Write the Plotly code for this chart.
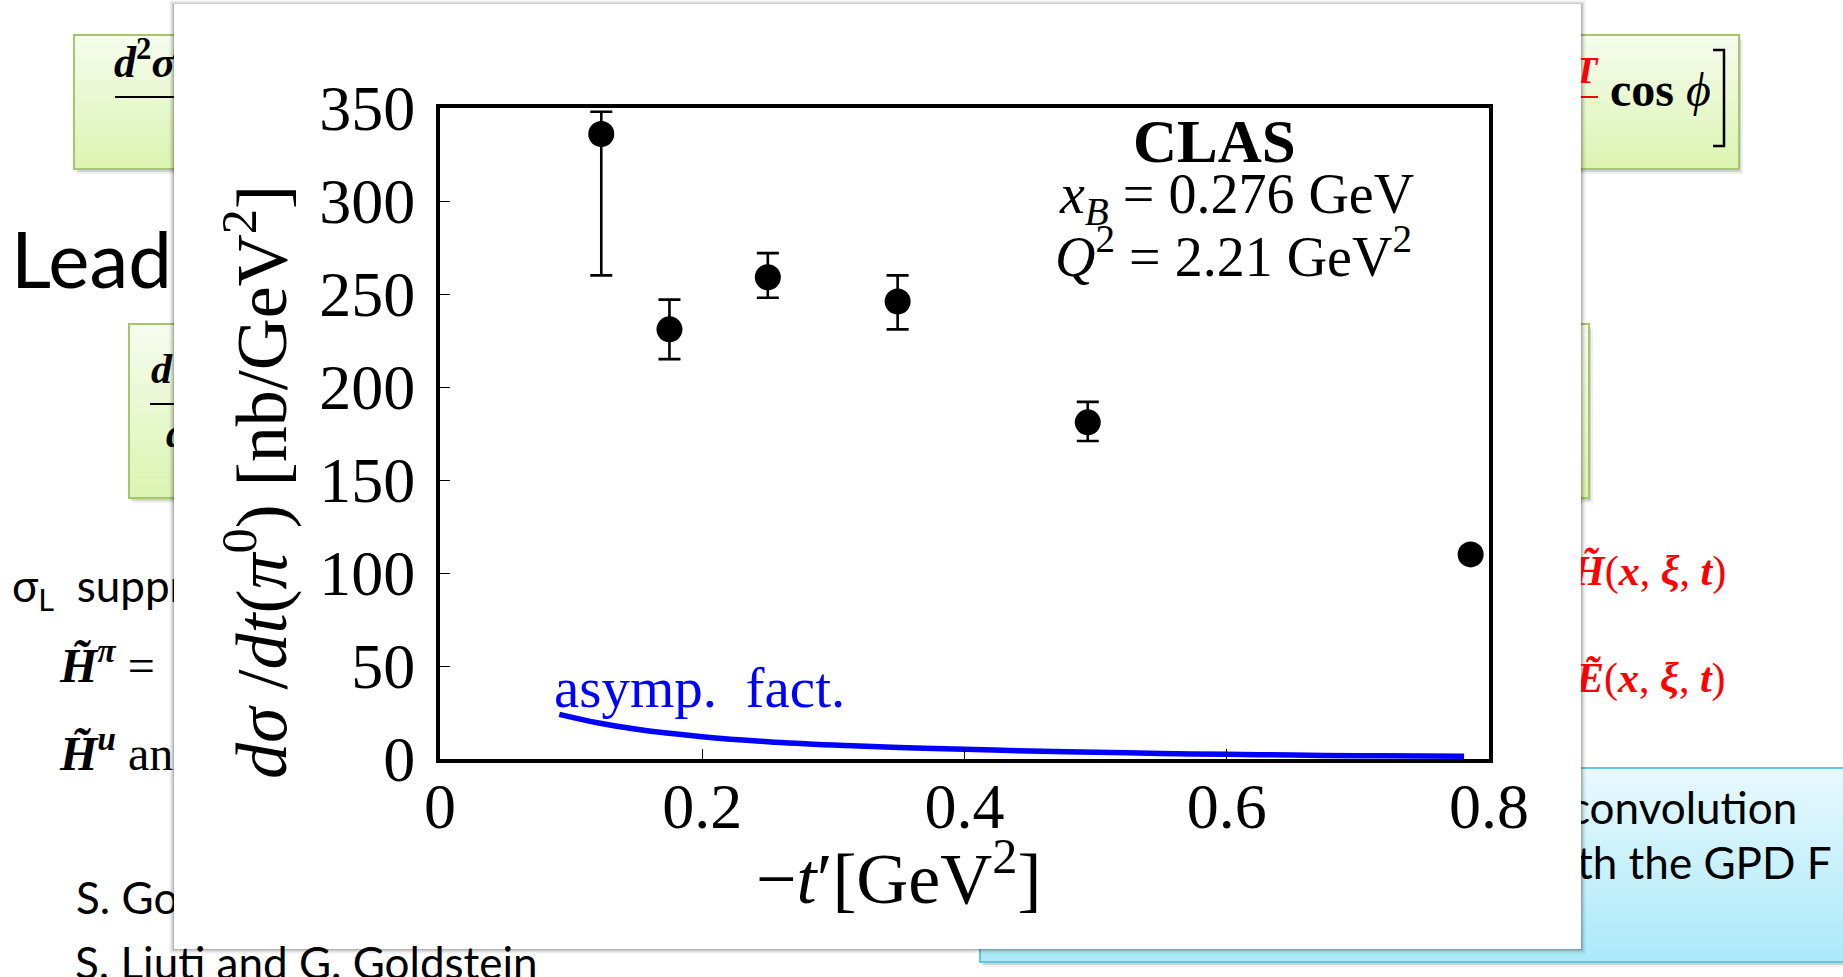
import plotly.graph_objects as go

W, H = 1843, 977

# CLAS pi0 electroproduction cross section, x_B = 0.276, Q^2 = 2.21 GeV^2
t_prime = [0.123, 0.175, 0.250, 0.349, 0.494, 0.786]
dsigma_dt = [336, 231, 259, 246, 181, 110]
err_up = [12, 16, 13, 14, 11, 3]
err_down = [76, 16, 11, 15, 10, 3]

# asymptotic factorization prediction
asym_t = [0.091, 0.12, 0.15, 0.20, 0.25, 0.30, 0.35, 0.40, 0.45, 0.50,
          0.55, 0.60, 0.65, 0.70, 0.75, 0.781]
asym_sigma = [24, 19.5, 16, 12, 9.3, 7.5, 6.2, 5.2, 4.3, 3.6,
              3.0, 2.5, 2.1, 1.8, 1.6, 1.5]

x_ticks = [0, 0.2, 0.4, 0.6, 0.8]
y_ticks = [0, 50, 100, 150, 200, 250, 300, 350]

SERIF = "Liberation Serif"
SANS = "Lato"


def px(x):
    return x / W


def py(y):
    return 1 - y / H


def rect(x0, y0, x1, y1, fill, line_color=None, line_width=0):
    return dict(type="rect", xref="paper", yref="paper", layer="below",
                x0=px(x0), x1=px(x1), y0=py(y1), y1=py(y0),
                fillcolor=fill,
                line=dict(color=line_color or "rgba(0,0,0,0)", width=line_width))


def mix(c0, c1, f):
    return "rgb(%d,%d,%d)" % tuple(round(a + (b - a) * f) for a, b in zip(c0, c1))


def gradient_box(x0, y0, x1, y1, top, bottom, border, n=24):
    out = [rect(x0 + 4, y0 + 5, x1 + 4, y1 + 5, "rgba(0,0,0,0.06)"),
           rect(x0 + 2, y0 + 3, x1 + 2, y1 + 3, "rgba(0,0,0,0.12)")]
    step = (y1 - y0) / n
    for i in range(n):
        out.append(rect(x0, y0 + i * step, x1, y0 + (i + 1) * step + 0.6,
                        mix(top, bottom, (i + 0.5) / n)))
    out.append(rect(x0, y0, x1, y1, "rgba(0,0,0,0)", border, 2))
    return out


shapes = []
# slide boxes behind the figure panel
shapes += gradient_box(74, 35, 1739, 169, (246, 252, 238), (219, 244, 176), "#a5c66c")
shapes += gradient_box(129, 324, 1589, 498, (246, 252, 238), (219, 244, 176), "#a5c66c")
shapes += gradient_box(980, 768, 1900, 962, (232, 249, 254), (170, 233, 249), "#6cc3db")
# fraction bars and closing bracket inside the green boxes
shapes.append(dict(type="line", xref="paper", yref="paper", layer="below",
                   x0=px(115), x1=px(180), y0=py(97), y1=py(97),
                   line=dict(color="black", width=2)))
shapes.append(dict(type="line", xref="paper", yref="paper", layer="below",
                   x0=px(150), x1=px(180), y0=py(404), y1=py(404),
                   line=dict(color="black", width=2)))
shapes.append(dict(type="line", xref="paper", yref="paper", layer="below",
                   x0=px(1570), x1=px(1598), y0=py(97), y1=py(97),
                   line=dict(color="#ff0000", width=2)))
shapes.append(dict(type="path", xref="paper", yref="paper", layer="below",
                   path="M %f,%f L %f,%f L %f,%f L %f,%f" % (
                       px(1713), py(50), px(1724), py(50),
                       px(1724), py(146), px(1713), py(146)),
                   line=dict(color="black", width=2.5)))

# figure panel with a soft shadow
for grow, alpha in [(5, 0.03), (4, 0.04), (3, 0.06), (2, 0.08), (1, 0.12)]:
    shapes.append(rect(174 - grow, 4 - grow + 1, 1581 + grow, 949 + grow,
                       "rgba(0,0,0,%.2f)" % alpha))
shapes.append(rect(174, 4, 1581, 949, "white"))

fig = go.Figure()

# measured points
fig.add_trace(go.Scatter(
    x=t_prime, y=dsigma_dt, mode="markers",
    marker=dict(color="black", size=26),
    error_y=dict(type="data", symmetric=False, array=err_up, arrayminus=err_down,
                 color="black", thickness=2.6, width=11),
    hoverinfo="skip", showlegend=False, cliponaxis=False,
))
# model curve
fig.add_trace(go.Scatter(
    x=asym_t, y=asym_sigma, mode="lines",
    line=dict(color="#0000ff", width=5.5, shape="spline"),
    hoverinfo="skip", showlegend=False,
))


def strip_text(xs, ys, texts, family, size, color, axis):
    fig.add_trace(go.Scatter(
        x=xs, y=ys, text=texts, mode="text", textposition="middle right",
        textfont=dict(family=family, size=size, color=color),
        xaxis="x" + axis, yaxis="y" + axis, cliponaxis=True,
        hoverinfo="skip", showlegend=False,
    ))


# slide text left of the panel
strip_text([11], [268], ["Lead"], SANS, 78, "black", "2")
strip_text([12], [591], ["σ<sub>L</sub>  suppr"], SANS, 44, "black", "2")
strip_text([76], [903], ["S. Go"], SANS, 44, "black", "2")
strip_text([114], [66], ["<b><i>d</i><sup>2</sup><i>σ</i></b>"], SERIF, 44, "black", "2")
strip_text([151, 166], [372, 436], ["<b><i>d</i></b>", "<b><i>dt</i></b>"],
           SERIF, 42, "black", "2")
strip_text([60, 60], [670, 758],
           ["<b><i>H̃</i></b><sup><b><i>π</i></b></sup> =",
            "<b><i>H̃</i></b><sup><b><i>u</i></b></sup> an"],
           SERIF, 48, "black", "2")

# slide text right of the panel
strip_text([1574], [73], ["<b><i>T</i></b>"], SERIF, 38, "#ff0000", "3")
strip_text([1610], [94], ["<b>cos</b> <i>ϕ</i>"], SERIF, 48, "black", "3")
strip_text([1572, 1576], [574, 681],
           ["<b><i>H̃</i></b>(<b><i>x</i></b>, <b><i>ξ</i></b>, <b><i>t</i></b>)",
            "<b><i>Ẽ</i></b>(<b><i>x</i></b>, <b><i>ξ</i></b>, <b><i>t</i></b>)"],
           SERIF, 42, "#ff0000", "3")
strip_text([1569, 1577], [813, 868], ["convolution", "th the GPD F"],
           SANS, 44, "black", "3")

annotations = [
    dict(text="S. Liuti and G. Goldstein", x=px(73), y=py(962), xanchor="left",
         yanchor="middle", font=dict(family=SANS, size=44, color="black")),
    dict(text="<b>CLAS</b>", x=px(1214), y=py(142), xanchor="center", yanchor="middle",
         font=dict(family=SERIF, size=61, color="black")),
    dict(text="<i>x</i><sub><i>B</i></sub> = 0.276 GeV", x=px(1416), y=py(198),
         xanchor="right", yanchor="middle", font=dict(family=SERIF, size=56, color="black")),
    dict(text="<i>Q</i><sup>2</sup> = 2.21 GeV<sup>2</sup>", x=px(1414), y=py(253),
         xanchor="right", yanchor="middle", font=dict(family=SERIF, size=56, color="black")),
    dict(text="asymp.  fact.", x=px(552), y=py(687), xanchor="left", yanchor="middle",
         font=dict(family=SERIF, size=57, color="#0000ff")),
    dict(text="<i>dσ</i> /<i>dt</i>(<i>π</i><sup>0</sup>) [nb/GeV<sup>2</sup>]",
         x=px(256), y=py(482), xanchor="center", yanchor="middle", textangle=-90,
         font=dict(family=SERIF, size=72, color="black")),
    dict(text="−<i>t</i>′[GeV<sup>2</sup>]", x=px(899), y=py(873), xanchor="center",
         yanchor="middle", font=dict(family=SERIF, size=72, color="black")),
]
for a in annotations:
    a.update(xref="paper", yref="paper", showarrow=False)

axis_common = dict(
    showline=True, linewidth=4, linecolor="black", mirror=True,
    ticks="inside", ticklen=10, tickwidth=1.3, tickcolor="black",
    showgrid=False, zeroline=False, automargin=False,
    tickfont=dict(family=SERIF, size=64, color="black"),
)
hidden = dict(visible=False, showgrid=False, zeroline=False, fixedrange=True,
              automargin=False)

fig.update_layout(
    width=W, height=H, autosize=False,
    margin=dict(l=0, r=0, t=0, b=0, pad=0, autoexpand=False),
    paper_bgcolor="white", plot_bgcolor="rgba(0,0,0,0)",
    font=dict(family=SERIF, color="black"),
    showlegend=False,
    xaxis=dict(domain=[px(440), px(1489)], range=[0, 0.8], tickvals=x_ticks,
               ticktext=["0", "0.2", "0.4", "0.6", "0.8"], anchor="y",
               ticklabelstandoff=-12, **axis_common),
    yaxis=dict(domain=[py(759), py(108)], range=[0, 350], tickvals=y_ticks,
               anchor="x", ticklabelstandoff=8, **axis_common),
    xaxis2=dict(domain=[0, px(174)], range=[0, 174], anchor="y2", **hidden),
    yaxis2=dict(domain=[0, 1], range=[H, 0], anchor="x2", **hidden),
    xaxis3=dict(domain=[px(1581), 1], range=[1581, W], anchor="y3", **hidden),
    yaxis3=dict(domain=[0, 1], range=[H, 0], anchor="x3", **hidden),
    shapes=shapes,
    annotations=annotations,
)

fig.write_html("out.html")
